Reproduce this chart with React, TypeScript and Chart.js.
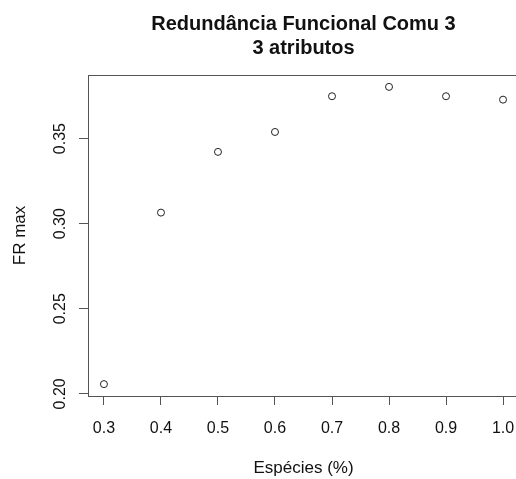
import React, { useEffect, useRef } from "react";
import { Chart, registerables } from "chart.js";

Chart.register(...registerables);

// ---- data ----
const especies: number[] = [0.3, 0.4, 0.5, 0.6, 0.7, 0.8, 0.9, 1.0];
const frMax: number[] = [0.2057, 0.3065, 0.3422, 0.3539, 0.3749, 0.3804, 0.3749, 0.3729];

const xTicks: number[] = [0.3, 0.4, 0.5, 0.6, 0.7, 0.8, 0.9, 1.0];
const xTickLabels: string[] = ["0.3", "0.4", "0.5", "0.6", "0.7", "0.8", "0.9", "1.0"];
const yTicks: number[] = [0.2, 0.25, 0.3, 0.35];
const yTickLabels: string[] = ["0.20", "0.25", "0.30", "0.35"];

const titleLines: string[] = ["Redundância Funcional Comu 3", "3 atributos"];
const xTitle = "Espécies (%)";
const yTitle = "FR max";

// R-style axis range: data range extended by 4% on each side
const rRange = (vals: number[]) => {
  const lo = Math.min(...vals);
  const hi = Math.max(...vals);
  const pad = (hi - lo) * 0.04;
  return [lo - pad, hi + pad];
};

const CANVAS_W = 540;
const CANVAS_H = 479;
const FONT = '"Liberation Sans", Arial, Helvetica, sans-serif';
const AXIS_COLOR = "#555";

const textPlugin = {
  id: "rText",
  afterDraw(chart: any) {
    const { ctx, chartArea: a, scales } = chart;
    ctx.save();
    // box around plot: top and left (right side lies outside the visible window)
    ctx.strokeStyle = AXIS_COLOR;
    ctx.lineWidth = 1;
    const L = Math.round(a.left) + 0.5;
    const T = Math.round(a.top) + 0.5;
    const B = Math.round(a.bottom) + 0.5;
    ctx.beginPath();
    ctx.moveTo(a.right + 2, T);
    ctx.lineTo(L, T);
    ctx.lineTo(L, B);
    ctx.stroke();

    ctx.fillStyle = "#111";
    const cx = (a.left + a.right) / 2;

    // title
    ctx.font = `bold 20px ${FONT}`;
    ctx.textAlign = "center";
    ctx.textBaseline = "alphabetic";
    ctx.fillText(titleLines[0], cx, a.top - 45);
    ctx.fillText(titleLines[1], cx, a.top - 21);

    // x tick labels
    ctx.font = `16px ${FONT}`;
    xTicks.forEach((v, i) => {
      const x = scales.x.getPixelForValue(v);
      ctx.fillText(xTickLabels[i], x, a.bottom + 37);
    });

    // x title
    ctx.font = `17px ${FONT}`;
    ctx.fillText(xTitle, cx, a.bottom + 77);

    // y tick labels (rotated)
    ctx.font = `16px ${FONT}`;
    yTicks.forEach((v, i) => {
      const y = scales.y.getPixelForValue(v);
      ctx.save();
      ctx.translate(a.left - 23.5, y);
      ctx.rotate(-Math.PI / 2);
      ctx.fillText(yTickLabels[i], 0, 0);
      ctx.restore();
    });

    // y title
    ctx.font = `17px ${FONT}`;
    ctx.save();
    ctx.translate(a.left - 63, (a.top + a.bottom) / 2);
    ctx.rotate(-Math.PI / 2);
    ctx.fillText(yTitle, 0, 0);
    ctx.restore();

    ctx.restore();
  },
};

export default function App() {
  const canvasRef = useRef<HTMLCanvasElement | null>(null);

  useEffect(() => {
    const canvas = canvasRef.current;
    if (!canvas) return;
    const [xMin, xMax] = rRange(especies);
    const [yMin, yMax] = rRange(frMax);

    const chart = new Chart(canvas, {
      type: "scatter",
      data: {
        datasets: [
          {
            data: especies.map((x, i) => ({ x, y: frMax[i] })),
            pointStyle: "circle",
            pointRadius: 3.5,
            pointBorderWidth: 1,
            pointBorderColor: "#222",
            pointBackgroundColor: "rgba(255,255,255,0)",
            showLine: false,
          },
        ],
      },
      options: {
        animation: false,
        responsive: false,
        devicePixelRatio: 1,
        layout: { padding: { top: 75, right: CANVAS_W - 519, left: 0, bottom: 0 } },
        plugins: {
          legend: { display: false },
          tooltip: { enabled: false },
          title: { display: false },
        },
        scales: {
          x: {
            type: "linear",
            position: "bottom",
            min: xMin,
            max: xMax,
            afterBuildTicks: (s: any) => {
              s.ticks = xTicks.map((v) => ({ value: v }));
            },
            afterFit: (s: any) => {
              s.height = CANVAS_H - 396;
            },
            ticks: { display: false },
            grid: { drawOnChartArea: false, drawTicks: true, tickLength: 9, color: AXIS_COLOR, lineWidth: 1 },
            border: { display: true, color: AXIS_COLOR, width: 1 },
          },
          y: {
            type: "linear",
            position: "left",
            min: yMin,
            max: yMax,
            afterBuildTicks: (s: any) => {
              s.ticks = yTicks.map((v) => ({ value: v }));
            },
            afterFit: (s: any) => {
              s.width = 88;
            },
            ticks: { display: false },
            grid: { drawOnChartArea: false, drawTicks: true, tickLength: 9, color: AXIS_COLOR, lineWidth: 1 },
            border: { display: true, color: AXIS_COLOR, width: 1 },
          },
        },
      },
      plugins: [textPlugin],
    });
    return () => chart.destroy();
  }, []);

  return (
    <div
      style={{
        position: "fixed",
        left: 0,
        top: 0,
        width: 516,
        height: 479,
        overflow: "hidden",
        background: "#fff",
      }}
    >
      <canvas
        ref={canvasRef}
        width={CANVAS_W}
        height={CANVAS_H}
        style={{ display: "block", width: CANVAS_W, height: CANVAS_H }}
      />
    </div>
  );
}
